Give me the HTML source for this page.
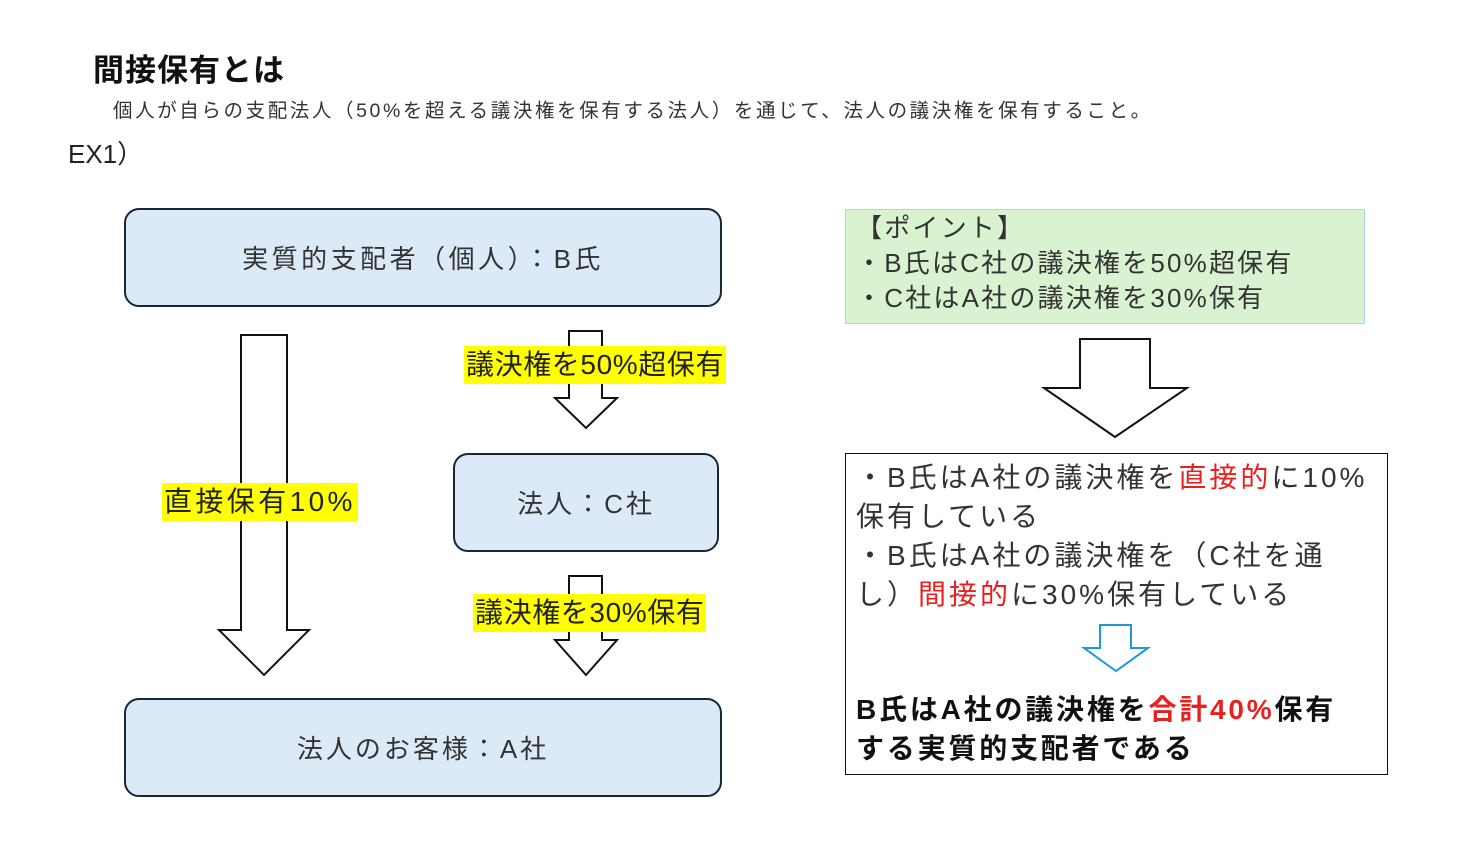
<!DOCTYPE html>
<html><head><meta charset="utf-8"><style>
body{margin:0;width:1474px;height:855px;background:#fff;position:relative;overflow:hidden;font-family:"Liberation Sans","Noto Sans CJK JP",sans-serif;color:#222}
.a{position:absolute;white-space:nowrap}
.box{position:absolute;box-sizing:border-box;background:#dce9f6;border:2px solid #15283a;border-radius:15px;display:flex;align-items:center;justify-content:center;font-size:26px;color:#333}
.hl{background:#ffff00;color:#222;font-size:28px;line-height:38px;padding:0 2px}
.r{color:#e8201f}
</style></head><body>
<div class="a" style="left:93px;top:45px;font-size:31px;font-weight:bold;color:#111;letter-spacing:1px">間接保有とは</div>
<div class="a" style="left:113px;top:94px;font-size:19.5px;letter-spacing:2.6px;color:#333">個人が自らの支配法人（50%を超える議決権を保有する法人）を通じて、法人の議決権を保有すること。</div>
<div class="a" style="left:68px;top:134px;font-size:26px;color:#222">EX1）</div>

<svg class="a" style="left:0;top:0" width="1474" height="855">
<g fill="#fff" stroke="#111" stroke-width="2">
<polygon points="241,335 287,335 287,630 309,630 264,675 219,630 241,630"/>
<polygon points="569,331 602,331 602,398 617,398 586,428 555,398 569,398"/>
<polygon points="569,576 602,576 602,640 617,640 586,675 555,640 569,640"/>
<polygon points="1080,339 1150,339 1150,388 1187,388 1115,437 1044,388 1080,388"/>
</g>
<polygon points="1100,625 1131,625 1131,648 1148,648 1116,671 1084,648 1100,648" fill="#fff" stroke="#1a9ad6" stroke-width="2"/>
</svg>

<div class="box" style="left:124px;top:208px;width:598px;height:99px;letter-spacing:3.5px">実質的支配者（個人）：B氏</div>
<div class="box" style="left:453px;top:453px;width:266px;height:99px;letter-spacing:3px">法人：C社</div>
<div class="box" style="left:124px;top:698px;width:598px;height:99px;letter-spacing:3px">法人のお客様：A社</div>

<div class="a hl" style="left:162px;top:483px;letter-spacing:3.4px">直接保有10%</div>
<div class="a hl" style="left:464px;top:346px;letter-spacing:0.6px">議決権を50%超保有</div>
<div class="a hl" style="left:473px;top:594px;letter-spacing:0.6px">議決権を30%保有</div>

<div class="a" style="left:845px;top:209px;width:520px;height:115px;box-sizing:border-box;background:#d9f2d0;border:1px solid #a9d8e8;font-size:26px;line-height:35px;padding:1px 0 0 10px;letter-spacing:2.2px;color:#333">【ポイント】<br>・B氏はC社の議決権を50%超保有<br>・C社はA社の議決権を30%保有</div>

<div class="a" style="left:845px;top:453px;width:543px;height:322px;box-sizing:border-box;border:1px solid #111;font-size:28px;line-height:39px;padding:4px 0 0 10px;color:#333;letter-spacing:3px">
<div>・B氏はA社の議決権を<span class="r">直接的</span>に10%<br>保有している</div>
<div>・B氏はA社の議決権を（C社を通<br>し）<span class="r">間接的</span>に30%保有している</div>
<div style="margin-top:76px;font-weight:bold;color:#111;letter-spacing:2.8px">B氏はA社の議決権を<span class="r">合計40%</span>保有<br>する実質的支配者である</div>
</div>
</body></html>
